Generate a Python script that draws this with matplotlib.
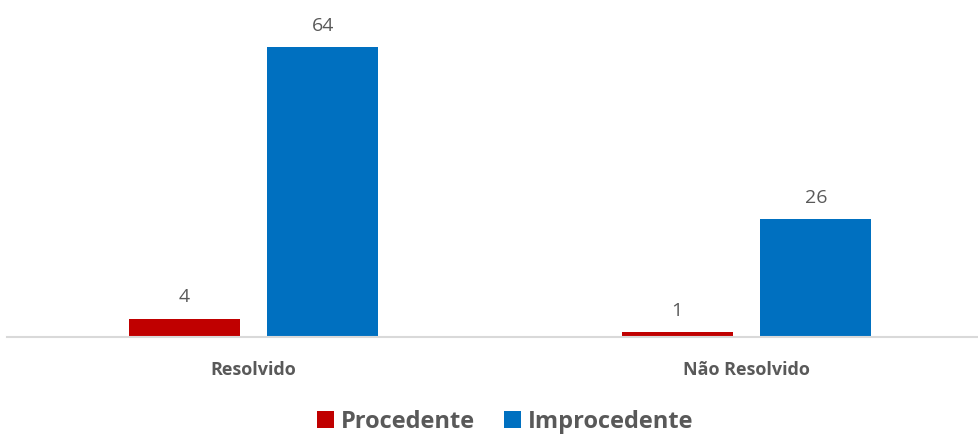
import matplotlib.pyplot as plt
import numpy as np

plt.rcParams['font.family'] = ['Open Sans', 'DejaVu Sans']

# dados
categorias = ['Resolvido', 'Não Resolvido']
procedente = [4, 1]
improcedente = [64, 26]
series = ['Procedente', 'Improcedente']
cores = ['#C00000', '#0070C0']
texto = '#595959'

fig = plt.figure(figsize=(9.79, 4.36), dpi=100)
ax = fig.add_axes([7 / 979, 99 / 436, 986 / 979, 317 / 436])

x = np.arange(len(categorias))
w = 0.225
off = 0.1405
b1 = ax.bar(x - off, procedente, w, color=cores[0], label=series[0])
b2 = ax.bar(x + off, improcedente, w, color=cores[1], label=series[1])

for bars in (b1, b2):
    for b in bars:
        ax.annotate(str(int(b.get_height())), (b.get_x() + b.get_width() / 2, b.get_height()),
                    xytext=(0, 12), textcoords='offset points', ha='center', va='baseline',
                    fontsize=14, color=texto)

ax.set_xlim(-0.5, 1.5)
ax.set_ylim(0, 70)
ax.set_xticks(x)
ax.set_xticklabels(categorias, fontsize=13, fontweight='bold', color=texto)
ax.tick_params(axis='x', length=0, pad=17)
ax.set_yticks([])
for s in ['top', 'right', 'left']:
    ax.spines[s].set_visible(False)
ax.spines['bottom'].set_color('#D9D9D9')
ax.spines['bottom'].set_linewidth(1.5)

leg = fig.legend(loc='center', bbox_to_anchor=(0.516, 0.032), ncol=2, frameon=False,
                 handlelength=0.72, handleheight=0.72, handletextpad=0.3, columnspacing=1.2,
                 prop={'size': 17, 'weight': 'bold'})
for t in leg.get_texts():
    t.set_color(texto)

fig.savefig('out.png', dpi=100)
